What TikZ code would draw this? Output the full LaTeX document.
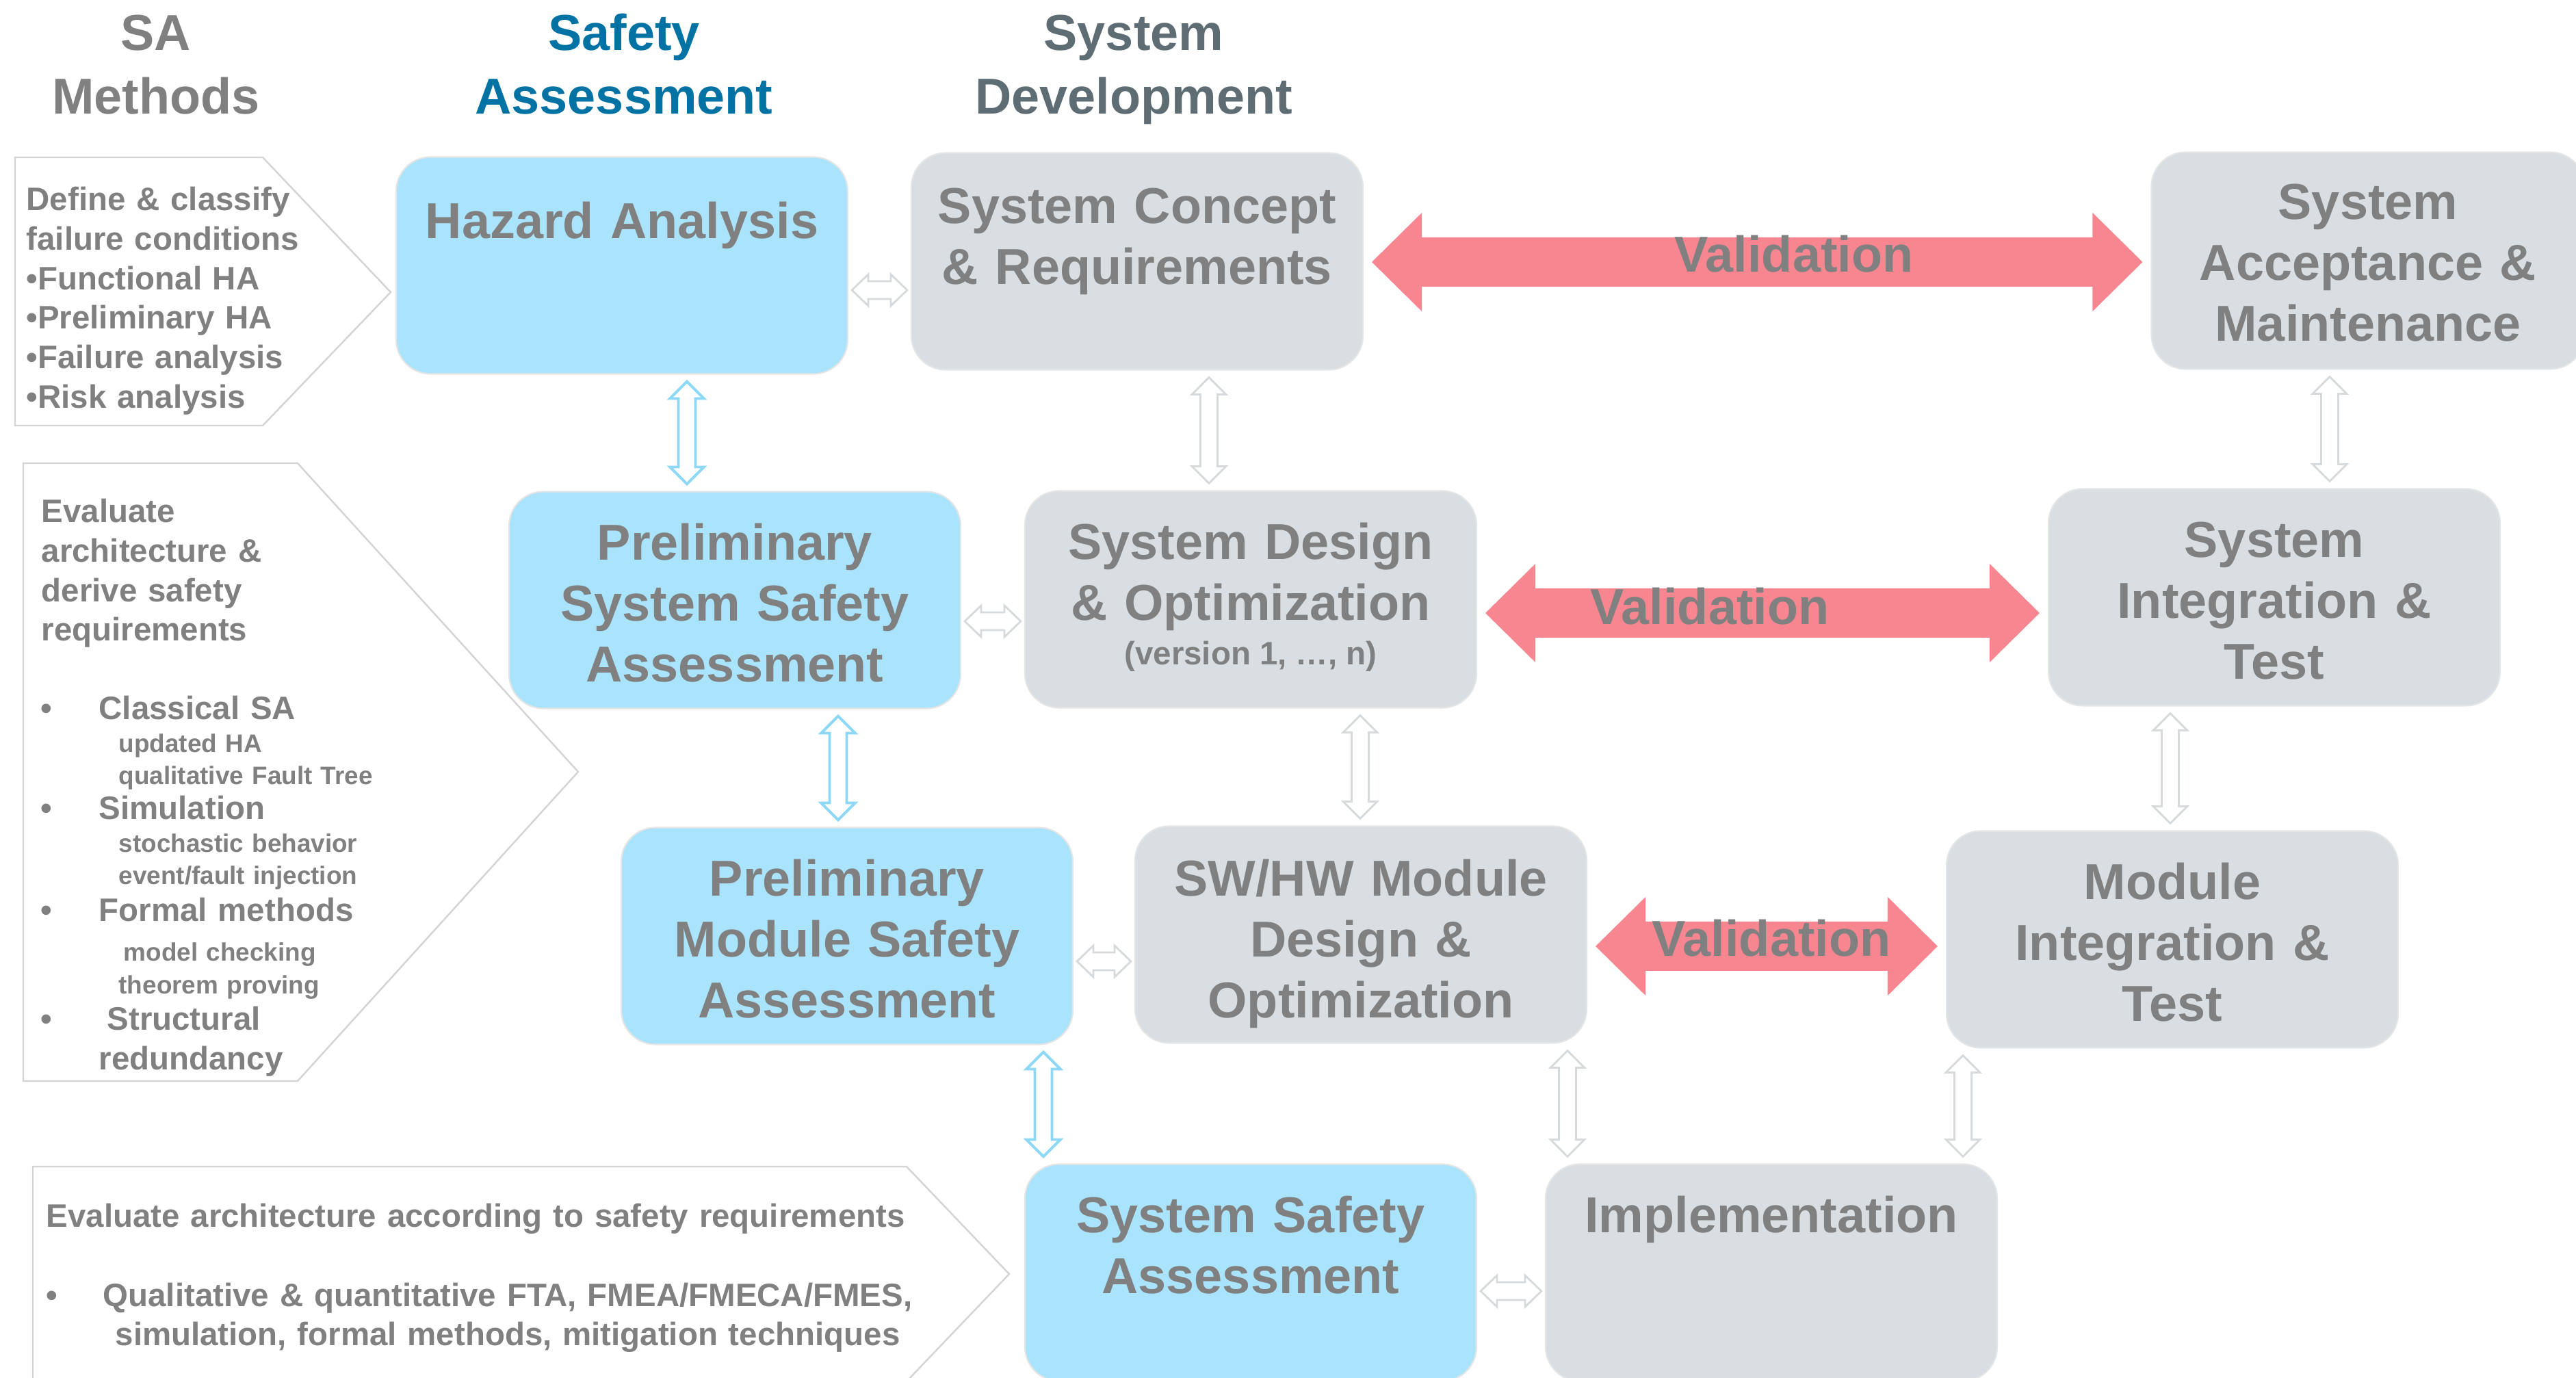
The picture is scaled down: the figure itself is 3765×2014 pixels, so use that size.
\documentclass[tikz,border=0pt]{standalone}
\usepackage{fontspec}
\setmainfont{Liberation Sans}
\usetikzlibrary{calc,positioning}

\definecolor{txtgray}{RGB}{128,128,128}
\definecolor{hdblue}{RGB}{0,114,163}
\definecolor{hdslate}{RGB}{94,108,116}
\definecolor{safeblue}{RGB}{170,228,252}
\definecolor{devgray}{RGB}{216,222,225}
\definecolor{valpink}{RGB}{247,134,144}
\definecolor{linkgray}{RGB}{214,218,221}
\definecolor{linkblue}{RGB}{140,216,246}
\definecolor{calloutline}{RGB}{212,212,212}

\tikzset{
  safebox/.style={rectangle, rounded corners=5mm, fill=safeblue, draw=black!10,
    line width=.6pt, minimum width=66mm, minimum height=31.7mm, inner sep=0pt},
  devbox/.style={safebox, fill=devgray},
  btext/.style={font=\fontsize{21}{25.3}\selectfont\bfseries, text=txtgray,
    text width=64mm, align=center, inner sep=0pt, anchor=base},
  head/.style={font=\fontsize{21}{26.2}\selectfont\bfseries, text width=50mm,
    align=center, inner sep=0pt, anchor=base},
  vtext/.style={font=\fontsize{21}{25}\selectfont\bfseries, text=txtgray,
    inner sep=0pt, anchor=base},
  ctext/.style={font=\fontsize{13.5}{16.4}\selectfont\bfseries, text=txtgray,
    text width=50mm, align=left, inner sep=0pt, anchor=base west},
  subtext/.style={ctext, font=\fontsize{10.5}{13.1}\selectfont\bfseries},
  callout/.style={draw=calloutline, line width=.7pt, fill=white},
  lnk/.style={draw=linkgray, line width=.8pt, fill=white},
  lnkb/.style={draw=linkblue, line width=1.1pt, fill=white},
}

% hollow double arrow between two stacked boxes: [style]{x}{upper}{lower}
\newcommand\vlink[4][lnk]{%
  \path[#1] let \p1=(#2,0), \p2=(#3.south), \p3=(#4.north) in
    (\x1,\y2-1mm) -- (\x1+2.5mm,\y2-3.5mm) -- (\x1+1.25mm,\y2-3.5mm)
    -- (\x1+1.25mm,\y3+3.5mm) -- (\x1+2.5mm,\y3+3.5mm) -- (\x1,\y3+1mm)
    -- (\x1-2.5mm,\y3+3.5mm) -- (\x1-1.25mm,\y3+3.5mm)
    -- (\x1-1.25mm,\y2-3.5mm) -- (\x1-2.5mm,\y2-3.5mm) -- cycle;}
% same, side by side: [style]{y}{left}{right}
\newcommand\hlink[4][lnk]{%
  \path[#1] let \p1=(0,#2), \p2=(#3.east), \p3=(#4.west) in
    (\x2+.5mm,\y1) -- (\x2+2.9mm,\y1+2.3mm) -- (\x2+2.9mm,\y1+1.3mm)
    -- (\x3-2.9mm,\y1+1.3mm) -- (\x3-2.9mm,\y1+2.3mm) -- (\x3-.5mm,\y1)
    -- (\x3-2.9mm,\y1-2.3mm) -- (\x3-2.9mm,\y1-1.3mm)
    -- (\x2+2.9mm,\y1-1.3mm) -- (\x2+2.9mm,\y1-2.3mm) -- cycle;}
% big validation arrow: {y}{left}{right}
\newcommand\valid[3]{%
  \fill[valpink] let \p1=(0,#1), \p2=(#2.east), \p3=(#3.west) in
    (\x2+1.2mm,\y1) -- (\x2+8.5mm,\y1+7.2mm) -- (\x2+8.5mm,\y1+3.6mm)
    -- (\x3-8.5mm,\y1+3.6mm) -- (\x3-8.5mm,\y1+7.2mm) -- (\x3-1.2mm,\y1)
    -- (\x3-8.5mm,\y1-7.2mm) -- (\x3-8.5mm,\y1-3.6mm)
    -- (\x2+8.5mm,\y1-3.6mm) -- (\x2+8.5mm,\y1-7.2mm) -- cycle;}

\begin{document}
\begin{tikzpicture}[x=0.1mm, y=-0.1mm]
\useasboundingbox[fill=white] (0,0) rectangle (3765,2014);

% method callouts on the left
\draw[callout] (22,230) -- (384,230) -- (571,427) -- (384,622) -- (22,622) -- cycle;
\draw[callout] (34,677) -- (435,677) -- (845,1128) -- (435,1580) -- (34,1580) -- cycle;
\draw[callout] (48,1705) -- (1325,1705) -- (1475,1862) -- (1325,2019) -- (48,2019) -- cycle;

% column heads
\node[head, text=txtgray] (h-sa) at (228,74) {SA\\Methods};
\node[head, text=hdblue] (h-safe) at (912,74) {Safety\\Assessment};
\node[head, text=hdslate] (h-dev) at (1657,74) {System\\Development};

% boxes
\node[safebox] (ha) at (909,388) {};
\node[devbox] (scr) at (1662,382) {};
\node[devbox, minimum width=63.3mm] (sam) at (3461,381) {};
\node[safebox] (pssa) at (1074,877) {};
\node[devbox] (sdo) at (1828,876) {};
\node[devbox] (sit) at (3324,873) {};
\node[safebox] (pmsa) at (1238,1368) {};
\node[devbox] (swhw) at (1989,1366) {};
\node[devbox] (mit) at (3175,1373) {};
\node[safebox] (ssa) at (1828,1860) {};
\node[devbox] (impl) at (2589,1860) {};

% links between boxes
\hlink{424}{ha}{scr}
\hlink{908}{pssa}{sdo}
\hlink{1405}{pmsa}{swhw}
\hlink{1887}{ssa}{impl}
\vlink[lnkb]{1004}{ha}{pssa}
\vlink[lnkb]{1225}{pssa}{pmsa}
\vlink[lnkb]{1525}{pmsa}{ssa}
\vlink{1767}{scr}{sdo}
\vlink{1988}{sdo}{swhw}
\vlink{2291}{swhw}{impl}
\vlink{3405}{sam}{sit}
\vlink{3172}{sit}{mit}
\vlink{2869}{mit}{impl}

% validation
\valid{383}{scr}{sam}
\valid{896}{sdo}{sit}
\valid{1383}{swhw}{mit}
\node[vtext] (val1) at (2622,398) {Validation};
\node[vtext] (val2) at (2499,913) {Validation};
\node[vtext] (val3) at (2589,1398) {Validation};

% box titles
\node[btext] (ha-t) at ([yshift=-12mm]ha.north) {Hazard Analysis};
\node[btext] (scr-t) at ([yshift=-10.4mm]scr.north) {System Concept\\\& Requirements};
\node[btext] (sam-t) at ([yshift=-9.9mm]sam.north) {System\\Acceptance \&\\Maintenance};
\node[btext] (pssa-t) at ([yshift=-10.1mm]pssa.north) {Preliminary\\System Safety\\Assessment};
\node[btext] (sdo-t) at ([yshift=-10.1mm]sdo.north) {System Design\\\& Optimization};
\node[vtext, font=\fontsize{13.5}{16}\selectfont\bfseries] (sdo-v) at ([yshift=-25.5mm]sdo.north) {(version 1, …, n)};
\node[btext] (sit-t) at ([yshift=-10.1mm]sit.north) {System\\Integration \&\\Test};
\node[btext] (pmsa-t) at ([yshift=-10.1mm]pmsa.north) {Preliminary\\Module Safety\\Assessment};
\node[btext] (swhw-t) at ([yshift=-10.3mm]swhw.north) {SW/HW Module\\Design \&\\Optimization};
\node[btext] (mit-t) at ([yshift=-10.1mm]mit.north) {Module\\Integration \&\\Test};
\node[btext] (ssa-t) at ([yshift=-10.1mm]ssa.north) {System Safety\\Assessment};
\node[btext] (impl-t) at ([yshift=-10.1mm]impl.north) {Implementation};

% callout texts
\node[ctext] (c1) at (38,308) {Define \& classify\\failure conditions\\•Functional HA\\•Preliminary HA\\•Failure analysis\\•Risk analysis};
\node[ctext] (c2) at (60,764) {Evaluate\\architecture \&\\derive safety\\requirements};
\foreach \yb [count=\i] in {1052,1198,1347,1506}
  \node[ctext] (dot\i) at (59,\yb) {•};
\node[ctext] (m1) at (144,1052) {Classical SA};
\node[subtext] (m1s) at (173,1100) {updated HA\\qualitative Fault Tree};
\node[ctext] (m2) at (144,1198) {Simulation};
\node[subtext] (m2s) at (173,1246) {stochastic behavior\\event/fault injection};
\node[ctext] (m3) at (144,1347) {Formal methods};
\node[subtext] (m3s) at (180,1405) {model checking};
\node[subtext] (m3t) at (173,1453) {theorem proving};
\node[ctext] (m4) at (156,1506) {Structural};
\node[ctext] (m4b) at (144,1563) {redundancy};
\node[ctext, text width=130mm] (c3) at (67,1794) {Evaluate architecture according to safety requirements};
\node[ctext] (dot5) at (67,1909) {•};
\node[ctext, text width=125mm, align=center, anchor=base] (c3l) at (742,1909) {Qualitative \& quantitative FTA, FMEA/FMECA/FMES,\\simulation, formal methods, mitigation techniques};
\end{tikzpicture}
\end{document}
